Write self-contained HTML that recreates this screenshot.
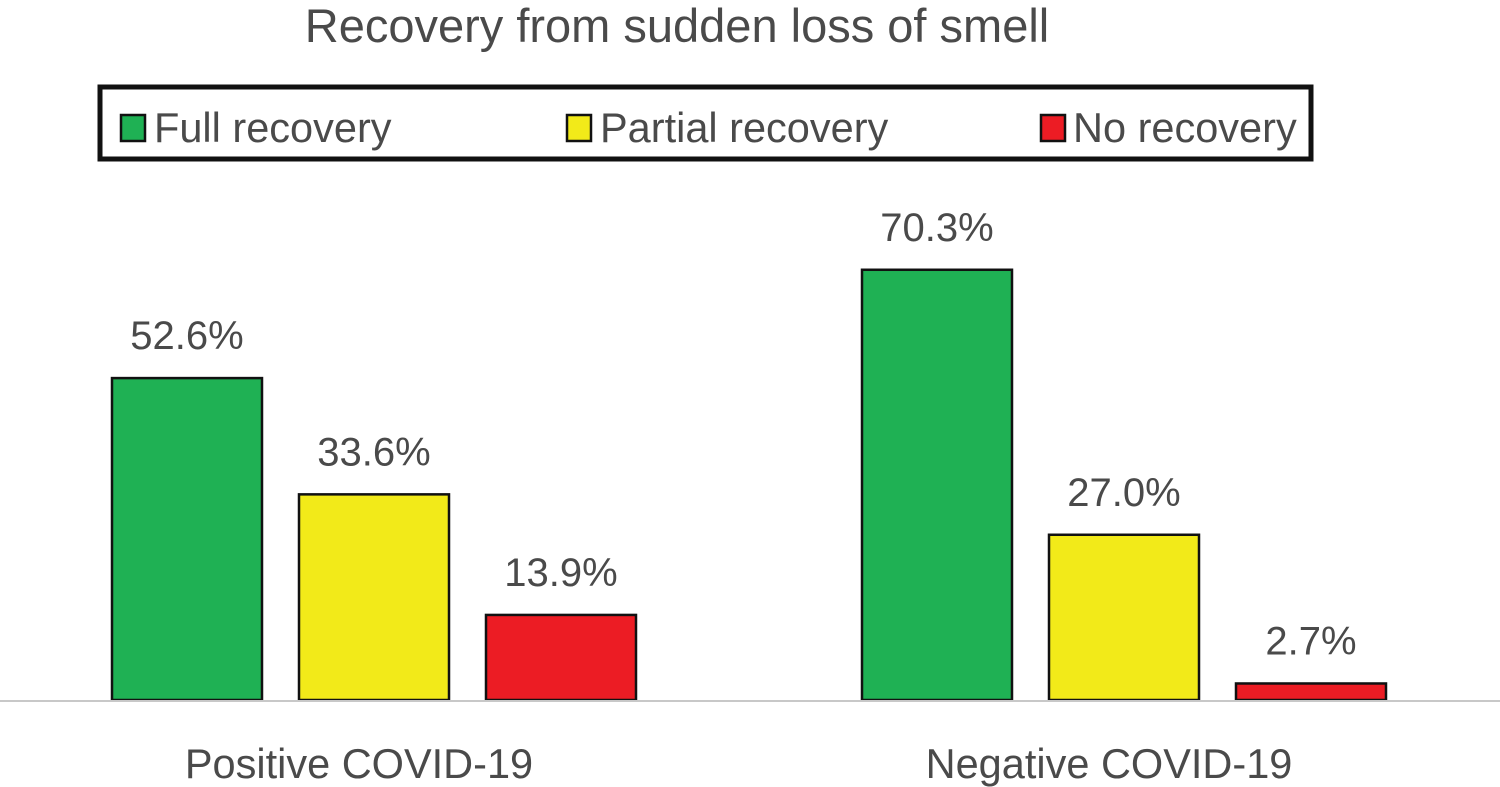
<!DOCTYPE html>
<html>
<head>
<meta charset="utf-8">
<style>
html,body{margin:0;padding:0;background:#fff;}
svg{display:block;}
text{font-family:"Liberation Sans",Arial,sans-serif;fill:#4a4a4a;}
</style>
</head>
<body>
<svg id="chart" width="1500" height="787" viewBox="0 0 1500 787">
  <text x="677" y="42" font-size="47" text-anchor="middle">Recovery from sudden loss of smell</text>
  <g>
    <rect x="100" y="87" width="1211" height="72" fill="#fff" stroke="#111" stroke-width="5"/>
    <g>
      <rect x="121" y="115" width="24" height="26" fill="#1fb154" stroke="#111" stroke-width="2.5"/>
      <text x="154" y="142" font-size="41.5">Full recovery</text>
    </g>
    <g>
      <rect x="567" y="115" width="24" height="26" fill="#f2ea19" stroke="#111" stroke-width="2.5"/>
      <text x="600" y="142" font-size="41.5">Partial recovery</text>
    </g>
    <g>
      <rect x="1041" y="115" width="24" height="26" fill="#ec1c24" stroke="#111" stroke-width="2.5"/>
      <text x="1073" y="142" font-size="41.5">No recovery</text>
    </g>
  </g>
  <g id="bars"></g>
  <line x1="0" y1="701" x2="1500" y2="701" stroke="#c8c8c8" stroke-width="2"/>
  <g id="xlabels"></g>
</svg>
<script>
const categories = ["Positive COVID-19", "Negative COVID-19"];
const fullRecovery = [52.6, 70.3];
const partialRecovery = [33.6, 27.0];
const noRecovery = [13.9, 2.7];
const seriesNames = ["full", "partial", "none"];
const seriesColors = ["#1fb154", "#f2ea19", "#ec1c24"];

const series = [fullRecovery, partialRecovery, noRecovery];
const baseY = 700, pxPerPct = 6.12;
const groupStart = [112, 862], barW = 150, barStep = 187;
function yScale(v){ return baseY - v * pxPerPct; }
const ns = "http://www.w3.org/2000/svg";
const gBars = document.getElementById('bars');
const gX = document.getElementById('xlabels');
categories.forEach((cat, ci) => {
  series.forEach((vals, si) => {
    const v = vals[ci];
    const x = groupStart[ci] + si * barStep;
    const y = yScale(v);
    const r = document.createElementNS(ns, 'rect');
    r.setAttribute('x', x); r.setAttribute('y', y);
    r.setAttribute('width', barW); r.setAttribute('height', baseY - y);
    r.setAttribute('fill', seriesColors[si]);
    r.setAttribute('stroke', '#111'); r.setAttribute('stroke-width', '2.5');
    
    
    gBars.appendChild(r);
    const t = document.createElementNS(ns, 'text');
    t.setAttribute('x', x + barW / 2); t.setAttribute('y', y - 29);
    t.setAttribute('font-size', '40'); t.setAttribute('text-anchor', 'middle');
    t.textContent = v.toFixed(1) + '%';
    
    
    gBars.appendChild(t);
  });
  const lt = document.createElementNS(ns, 'text');
  lt.setAttribute('x', groupStart[ci] + barStep + barW / 2 - 15); lt.setAttribute('y', 778);
  lt.setAttribute('font-size', '41.5'); lt.setAttribute('text-anchor', 'middle');
  lt.textContent = cat;
  
  
  gX.appendChild(lt);
});
</script>
</body>
</html>
